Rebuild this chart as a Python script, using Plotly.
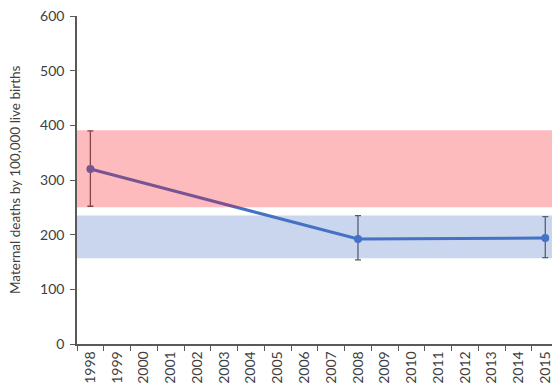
import plotly.graph_objects as go

years = [str(y) for y in range(1998, 2016)]
obs_years = ["1998", "2008", "2015"]
mmr = [320, 192, 194]
upper = [390, 235, 233]
lower = [252, 154, 158]
band_1998 = [250, 391]
band_2008 = [157, 235]

err_plus = [u - v for u, v in zip(upper, mmr)]
err_minus = [v - l for v, l in zip(mmr, lower)]

axis_col = "#595959"
font_fam = "Lato, 'DejaVu Sans', sans-serif"

fig = go.Figure()
fig.add_trace(go.Scatter(
    x=obs_years, y=mmr, mode="lines+markers",
    line=dict(color="#4472C4", width=3),
    marker=dict(color="#4472C4", size=8),
    error_y=dict(type="data", symmetric=False, array=err_plus, arrayminus=err_minus,
                 color="#595959", thickness=1.3, width=3),
    showlegend=False,
))

fig.add_shape(type="rect", xref="paper", yref="y", x0=0, x1=1,
              y0=band_1998[0], y1=band_1998[1], layer="above",
              fillcolor="rgba(250,10,20,0.28)", line=dict(width=0))
fig.add_shape(type="rect", xref="paper", yref="y", x0=0, x1=1,
              y0=band_2008[0], y1=band_2008[1], layer="above",
              fillcolor="rgba(68,114,196,0.29)", line=dict(width=0))

fig.add_annotation(text="Maternal deaths by 100,000 live births",
                   xref="paper", yref="paper", x=-62 / 483, y=0.5,
                   xanchor="center", yanchor="middle", textangle=-90,
                   showarrow=False, font=dict(size=13.5, color="#404040"))

fig.update_layout(
    width=552, height=381,
    margin=dict(l=69, r=0, t=8, b=45),
    plot_bgcolor="white", paper_bgcolor="white",
    font=dict(family=font_fam, size=14, color="#404040"),
    xaxis=dict(type="category", categoryorder="array", categoryarray=years,
               range=[-0.5, 17.55], tickangle=-90, tickson="boundaries",
               ticks="outside", ticklen=5, tickcolor=axis_col,
               showline=True, linecolor=axis_col, linewidth=1.5,
               showgrid=False, zeroline=False, automargin=False,
               ticklabeloverflow="allow"),
    yaxis=dict(range=[0, 600], dtick=100, ticks="outside", ticklen=5,
               tickcolor=axis_col, showline=True, linecolor=axis_col, linewidth=1.5,
               showgrid=False, zeroline=False, automargin=False, ticklabelstandoff=3,
               ticklabeloverflow="allow"),
)

fig.write_html("out.html")
